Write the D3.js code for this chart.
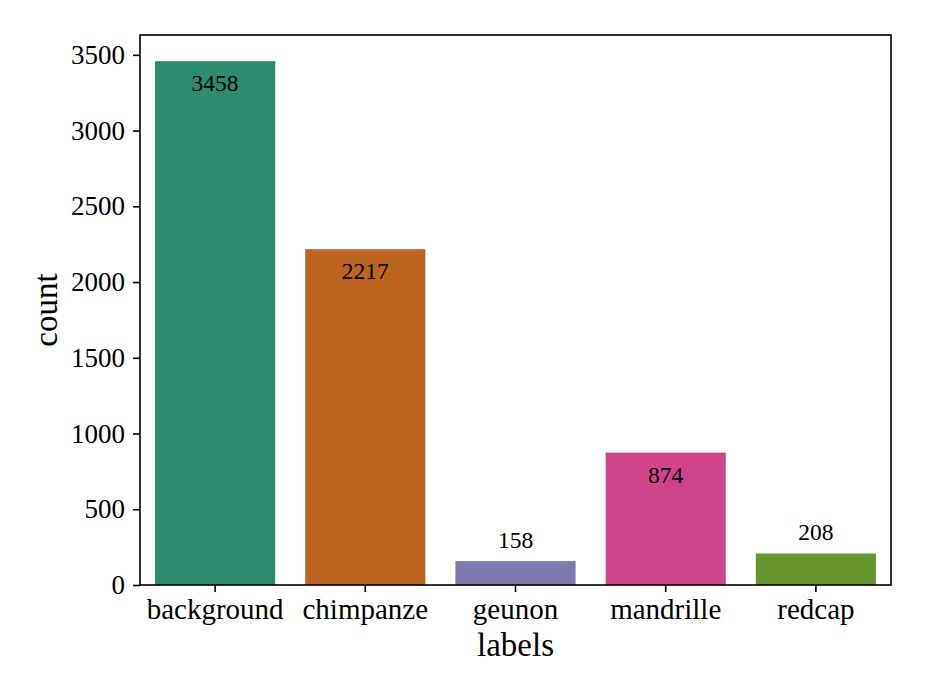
<!DOCTYPE html>
<html><head><meta charset="utf-8">
<script src="https://cdn.jsdelivr.net/npm/d3@7"></script>
<style>html,body{margin:0;padding:0;background:#fff;} text{font-family:"Liberation Serif","Times New Roman",serif;fill:#000;}</style>
</head><body>
<svg id="chart" width="926" height="695"></svg>
<script>
const categories = ["background", "chimpanze", "geunon", "mandrille", "redcap"];
const counts = [3458, 2217, 158, 874, 208];
const colors = ["#2d8c6f", "#bd6420", "#7e79ad", "#d0448a", "#67962f"];
const yTicks = [0, 500, 1000, 1500, 2000, 2500, 3000, 3500];

const svg = d3.select("#chart");
const L = 140, R = 891, T = 35, B = 585;

const x = d3.scaleBand().domain(categories).range([L, R]).paddingInner(0.2).paddingOuter(0.1);
const y = d3.scaleLinear().domain([0, d3.max(counts) * 1.05]).range([B, T]);

const data = categories.map((c, i) => ({c, v: counts[i], col: colors[i]}));

svg.append("g").selectAll("rect").data(data).join("rect")
  .attr("x", d => x(d.c)).attr("width", x.bandwidth())
  .attr("y", d => y(d.v)).attr("height", d => B - y(d.v))
  .attr("fill", d => d.col);

svg.append("g").selectAll("text").data(data).join("text")
  .attr("x", d => x(d.c) + x.bandwidth() / 2)
  .attr("y", d => d.v > 500 ? y(d.v) + 30 : y(d.v) - 13)
  .attr("text-anchor", "middle")
  .style("font-size", "23.5px")
  .text(d => d.v);

// axes
const xAxis = svg.append("g").attr("transform", `translate(0,${B})`)
  .call(d3.axisBottom(x).tickSize(7).tickSizeOuter(0).tickPadding(6));
xAxis.select(".domain").remove();
xAxis.selectAll("line").attr("stroke", "#000").attr("stroke-width", 1.6);
xAxis.selectAll("text").style("font-size", "29px");

const yAxis = svg.append("g").attr("transform", `translate(${L},0)`)
  .call(d3.axisLeft(y).tickValues(yTicks).tickFormat(d3.format("d")).tickSize(7).tickPadding(8));
yAxis.select(".domain").remove();
yAxis.selectAll("line").attr("stroke", "#000").attr("stroke-width", 1.6);
yAxis.selectAll("text").style("font-size", "27px");
d3.selectAll("g").attr("font-family", null).attr("font-size", null);

// frame
svg.append("rect").attr("x", L).attr("y", T).attr("width", R - L).attr("height", B - T)
  .attr("fill", "none").attr("stroke", "#000").attr("stroke-width", 1.6);

svg.append("text").attr("x", (L + R) / 2).attr("y", 656).attr("text-anchor", "middle")
  .style("font-size", "33px").text("labels");
svg.append("text").attr("transform", `translate(57,${(T + B) / 2}) rotate(-90)`)
  .attr("text-anchor", "middle").style("font-size", "33px").text("count");
</script>
</body></html>
